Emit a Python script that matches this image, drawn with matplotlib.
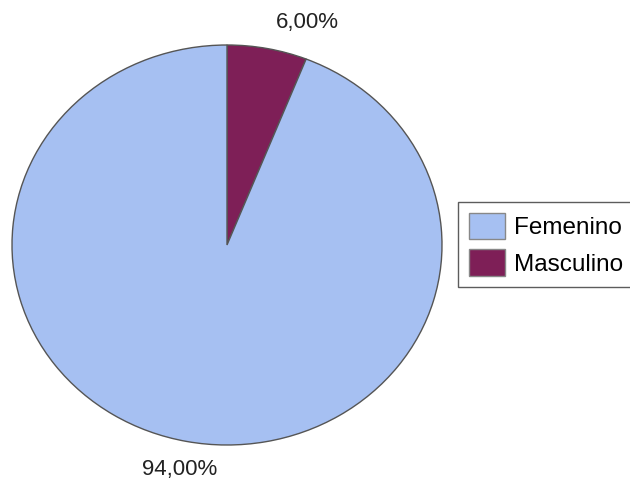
import matplotlib
matplotlib.use("Agg")
import matplotlib.pyplot as plt
from matplotlib.patches import Patch

categories = ["Femenino", "Masculino"]
values = [94.0, 6.0]
labels_txt = ["94,00%", "6,00%"]
colors = ["#a6c0f2", "#7e1f57"]

plt.rcParams['font.family'] = ['Liberation Sans', 'DejaVu Sans']

fig = plt.figure(figsize=(6.3, 4.91), dpi=100)
ax = fig.add_axes([12/630, (491-445)/491, 430/630, 400/491])
ax.axis('off')

# order: Masculino first clockwise from top, then Femenino
wedges, _ = ax.pie([values[1], values[0]], colors=[colors[1], colors[0]],
                   startangle=90, counterclock=False, radius=1,
                   wedgeprops=dict(edgecolor="#555555", linewidth=1.0))
ax.set_aspect('auto')
ax.set_xlim(-1, 1)
ax.set_ylim(-1, 1)

ax.text(0.372, 1.11, labels_txt[1], ha='center', va='center', fontsize=16, color='#222222', clip_on=False)
ax.text(-0.219, -1.125, labels_txt[0], ha='center', va='center', fontsize=16, color='#222222', clip_on=False)

handles = [Patch(facecolor=colors[0], edgecolor='#888888'),
           Patch(facecolor=colors[1], edgecolor='#888888')]
leg = fig.legend(handles, categories, loc='upper left',
                 bbox_to_anchor=(458/630, 1 - 202/491), fontsize=17.5,
                 frameon=True, fancybox=False, edgecolor='#333333',
                 handlelength=1.5, handleheight=1.3, handletextpad=0.35,
                 borderpad=0.45, labelspacing=0.4, borderaxespad=0)
leg.get_frame().set_linewidth(1.0)

fig.savefig("out.png", dpi=100, facecolor='white')
